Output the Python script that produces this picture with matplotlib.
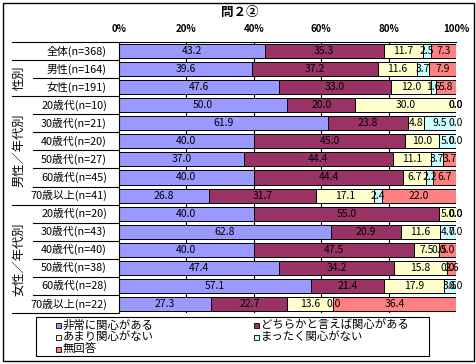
import numpy as np
import matplotlib
matplotlib.use("Agg")
import matplotlib.pyplot as plt
from matplotlib.transforms import blended_transform_factory
from matplotlib.patches import Rectangle

plt.rcParams['font.family'] = ['Noto Sans CJK JP', 'DejaVu Sans']

# --- データ ---
categories = ["全体(n=368)", "男性(n=164)", "女性(n=191)",
              "20歳代(n=10)", "30歳代(n=21)", "40歳代(n=20)", "50歳代(n=27)",
              "60歳代(n=45)", "70歳以上(n=41)",
              "20歳代(n=20)", "30歳代(n=43)", "40歳代(n=40)", "50歳代(n=38)",
              "60歳代(n=28)", "70歳以上(n=22)"]
very_interested = [43.2, 39.6, 47.6, 50.0, 61.9, 40.0, 37.0, 40.0, 26.8,
                   40.0, 62.8, 40.0, 47.4, 57.1, 27.3]
somewhat_interested = [35.3, 37.2, 33.0, 20.0, 23.8, 45.0, 44.4, 44.4, 31.7,
                       55.0, 20.9, 47.5, 34.2, 21.4, 22.7]
not_very = [11.7, 11.6, 12.0, 30.0, 4.8, 10.0, 11.1, 6.7, 17.1,
            5.0, 11.6, 7.5, 15.8, 17.9, 13.6]
not_at_all = [2.5, 3.7, 1.6, 0.0, 9.5, 5.0, 3.7, 2.2, 2.4,
              0.0, 4.7, 0.0, 0.0, 3.6, 0.0]
no_answer = [7.3, 7.9, 5.8, 0.0, 0.0, 0.0, 3.7, 6.7, 22.0,
             0.0, 0.0, 5.0, 2.6, 0.0, 36.4]
series_names = ["非常に関心がある", "どちらかと言えば関心がある", "あまり関心がない",
                "まったく関心がない", "無回答"]
colors = ["#9999FF", "#993366", "#FFFFCC", "#CCFFFF", "#FF8080"]
groups = [("性別", 1, 2), ("男性／年代別", 3, 8), ("女性／年代別", 9, 14)]
x_ticks = [0, 20, 40, 60, 80, 100]

W, H = 477, 364
fig = plt.figure(figsize=(W / 100, H / 100), dpi=100)
fig.patch.set_facecolor("white")

left, right, top, bottom = 119, 456, 42, 313
ax = fig.add_axes([left / W, 1 - bottom / H, (right - left) / W, (bottom - top) / H])

n = len(categories)
y = np.arange(n)
data = [very_interested, somewhat_interested, not_very, not_at_all, no_answer]

for x in x_ticks[1:]:
    ax.axvline(x, color="black", lw=0.8, zorder=0)

lefts = np.zeros(n)
for vals, c, name in zip(data, colors, series_names):
    vals = np.array(vals)
    ax.barh(y, vals, left=lefts, height=0.78, color=c, edgecolor="black",
            linewidth=0.7, label=name, zorder=2)
    for yi, l, v in zip(y, lefts, vals):
        ax.text(l + v / 2, yi, f"{v:.1f}", ha="center", va="center",
                fontsize=7.5, zorder=3, clip_on=False)
    lefts += vals

ax.set_xlim(0, 100)
ax.set_ylim(n - 0.5, -0.5)
ax.xaxis.tick_top()
ax.set_xticks(x_ticks)
ax.set_xticklabels([f"{t}%" for t in x_ticks], fontsize=7, fontweight="bold")
ax.tick_params(axis="x", length=0, pad=6)
ax.set_yticks([])
for s in ["right", "bottom"]:
    ax.spines[s].set_visible(False)
ax.spines["left"].set_linewidth(0.8)
ax.spines["top"].set_linewidth(0.8)

# 行ラベルと区切り線
tr = blended_transform_factory(fig.transFigure, ax.transData)
for yi, cat in enumerate(categories):
    ax.text(107 / W, yi, cat, transform=tr, ha="right", va="center", fontsize=7.8)

group_edges = {-0.5, 0.5, 2.5, 8.5, 14.5}
for b in np.arange(-0.5, n, 1.0):
    x0 = 12 if b in group_edges else 33
    ax.plot([x0 / W, left / W], [b, b], color="black", lw=0.8,
            transform=tr, clip_on=False)

for name, a, b in groups:
    ax.text(19 / W, (a + b) / 2, name, transform=tr, rotation=90,
            ha="center", va="center", fontsize=8.8)

fig.text(240 / W, 1 - 12 / H, "問２②", ha="center", va="center",
         fontsize=9, fontweight="bold")

# 凡例
fig.patches.append(Rectangle((36 / W, 1 - 356 / H), (429 - 36) / W, (356 - 317) / H,
                             transform=fig.transFigure, fill=False,
                             edgecolor="black", lw=0.8))
legend_pos = [(62, 325), (260, 325), (62, 337), (260, 337), (62, 349)]
for (lx, ly), name, c in zip(legend_pos, series_names, colors):
    fig.patches.append(Rectangle(((lx - 6) / W, 1 - (ly + 3) / H), 5 / W, 5 / H,
                                 transform=fig.transFigure, facecolor=c,
                                 edgecolor="black", lw=0.6))
    fig.text((lx + 1) / W, 1 - ly / H, name, ha="left", va="center", fontsize=8.2)

fig.patches.append(Rectangle((3 / W, 1 - 361 / H), (474 - 3) / W, (361 - 3) / H,
                             transform=fig.transFigure, fill=False,
                             edgecolor="black", lw=1.0))

fig.savefig("out.png", dpi=100)
